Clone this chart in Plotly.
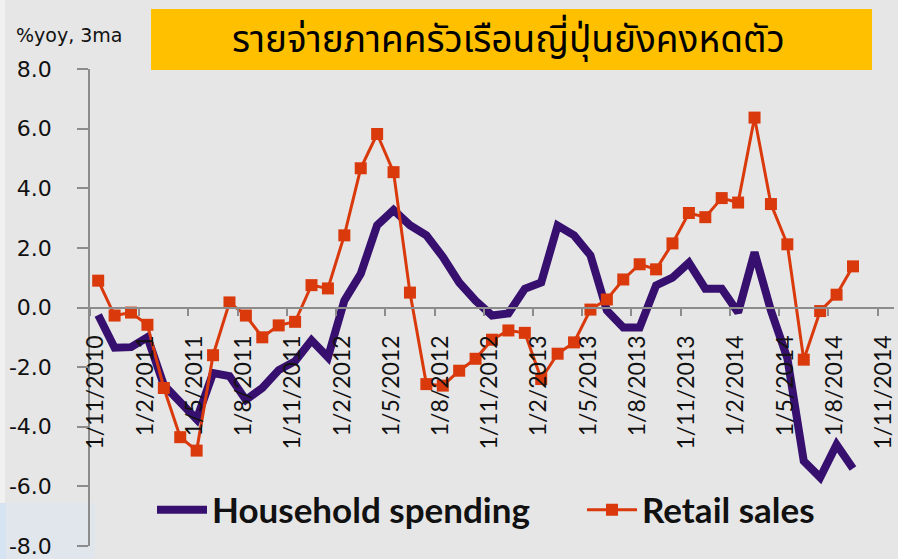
import plotly.graph_objects as go

# monthly, Nov 2010 .. Sep 2014 (%yoy, 3-month average)
months = ["11/2010", "12/2010", "1/2011", "2/2011", "3/2011", "4/2011", "5/2011", "6/2011",
          "7/2011", "8/2011", "9/2011", "10/2011", "11/2011", "12/2011", "1/2012", "2/2012",
          "3/2012", "4/2012", "5/2012", "6/2012", "7/2012", "8/2012", "9/2012", "10/2012",
          "11/2012", "12/2012", "1/2013", "2/2013", "3/2013", "4/2013", "5/2013", "6/2013",
          "7/2013", "8/2013", "9/2013", "10/2013", "11/2013", "12/2013", "1/2014", "2/2014",
          "3/2014", "4/2014", "5/2014", "6/2014", "7/2014", "8/2014", "9/2014"]

household = [-0.25, -1.35, -1.33, -1.0, -2.6, -3.2, -3.75, -2.2, -2.3, -3.1, -2.7, -2.1,
             -1.8, -1.1, -1.67, 0.23, 1.13, 2.76, 3.27, 2.76, 2.42, 1.7, 0.84, 0.23,
             -0.27, -0.2, 0.63, 0.84, 2.75, 2.42, 1.75, -0.1, -0.67, -0.67, 0.74, 1.0,
             1.5, 0.63, 0.63, -0.17, 1.85, -0.1, -1.7, -5.15, -5.7, -4.6, -5.4]

retail = [0.9, -0.27, -0.17, -0.58, -2.7, -4.35, -4.8, -1.6, 0.17, -0.27, -1.0, -0.6,
          -0.48, 0.75, 0.64, 2.42, 4.67, 5.82, 4.54, 0.5, -2.57, -2.62, -2.12, -1.72,
          -1.08, -0.77, -0.85, -2.4, -1.55, -1.17, -0.07, 0.27, 0.94, 1.45, 1.28, 2.15,
          3.17, 3.03, 3.67, 3.52, 6.37, 3.47, 2.12, -1.75, -0.12, 0.43, 1.38]

tick_labels = ["1/11/2010", "1/2/2011", "1/5/2011", "1/8/2011", "1/11/2011", "1/2/2012",
               "1/5/2012", "1/8/2012", "1/11/2012", "1/2/2013", "1/5/2013", "1/8/2013",
               "1/11/2013", "1/2/2014", "1/5/2014", "1/8/2014", "1/11/2014"]

y_ticks = [8, 6, 4, 2, 0, -2, -4, -6, -8]

title = "รายจ่ายภาคครัวเรือนญี่ปุ่นยังคงหดตัว"

# points sit in the middle of each month, ticks at month starts (every 3 months)
x = [i + 0.5 for i in range(len(months))]
tick_pos = [i * 3 for i in range(len(tick_labels))]

W, H = 898, 559
L, R, T, B = 90, 4, 69, 13


def px(xp, yp):
    # pixel -> paper coords
    return (xp - L) / (W - L - R), (H - B - yp) / (H - T - B)


fig = go.Figure()
fig.add_trace(go.Scatter(
    x=x, y=household, name="Household spending", mode="lines",
    line=dict(color="#37106F", width=8), text=months,
    legend="legend", showlegend=True,
))
fig.add_trace(go.Scatter(
    x=x, y=retail, name="Retail sales", mode="lines+markers",
    line=dict(color="#D9390B", width=3),
    marker=dict(symbol="square", size=12, color="#D9390B"), text=months,
    legend="legend2", showlegend=True,
))

legend_font = dict(family="Lato", size=35, weight="bold", color="#111111")
fig.update_layout(
    width=W, height=H, showlegend=True,
    margin=dict(l=L, r=R, t=T, b=B, autoexpand=False),
    paper_bgcolor="#E6E6E6", plot_bgcolor="#E6E6E6",
    font=dict(family="DejaVu Sans", color="#111111"),
    legend=dict(x=px(152, 0)[0], y=px(0, 510)[1], xanchor="left", yanchor="middle",
                bgcolor="rgba(0,0,0,0)", font=legend_font, itemwidth=50, visible=True),
    legend2=dict(x=px(582, 0)[0], y=px(0, 510)[1], xanchor="left", yanchor="middle",
                 bgcolor="rgba(0,0,0,0)", font=legend_font, itemwidth=50, visible=True),
)

fig.update_xaxes(
    range=[0, 49], anchor="free", position=0.5, automargin=False,
    showgrid=False, zeroline=False,
    showline=True, linecolor="#8C8C8C", linewidth=1.5,
    ticks="outside", ticklen=8, tickcolor="#8C8C8C", tickwidth=1.5,
    tickvals=tick_pos, ticktext=tick_labels, tickangle=-90,
    ticklabelshift=6, ticklabelstandoff=10, ticklabeloverflow="allow",
    tickfont=dict(family="Lato", size=23, color="#111111"),
)
fig.update_yaxes(
    range=[-8, 8], showgrid=False, zeroline=False, automargin=False,
    showline=True, linecolor="#8C8C8C", linewidth=1.5,
    ticks="outside", ticklen=11, tickcolor="#8C8C8C", tickwidth=1.5,
    tickvals=y_ticks, ticktext=["%.1f" % v for v in y_ticks],
    ticklabelstandoff=21,
    tickfont=dict(family="DejaVu Sans", size=22, color="#111111"),
)

# slide background peeking through at the left edge / bottom-left corner
sx0, _ = px(0, 0)
sx1, _ = px(5, 0)
_, sy0 = px(0, H)
_, sy1 = px(0, 0)
fig.add_shape(type="rect", xref="paper", yref="paper", x0=sx0, x1=sx1, y0=sy0, y1=sy1,
              fillcolor="#F1F1F1", line=dict(width=0), layer="below")
cx1, cy1 = px(95, 503)
fig.add_shape(type="rect", xref="paper", yref="paper", x0=sx0, x1=cx1, y0=sy0, y1=cy1,
              fillcolor="#DCE6F1", opacity=0.55, line=dict(width=0), layer="below")
cx1, _ = px(6, 0)
fig.add_shape(type="rect", xref="paper", yref="paper", x0=sx0, x1=cx1, y0=sy0, y1=cy1,
              fillcolor="#D6E3F2", line=dict(width=0), layer="below")

bx0, by0 = px(151, 70)
bx1, by1 = px(872, 9)
fig.add_shape(type="rect", xref="paper", yref="paper", x0=bx0, x1=bx1, y0=by0, y1=by1,
              fillcolor="#FFC000", line=dict(width=0), layer="below")
tx, ty = px(508, 41)
fig.add_annotation(xref="paper", yref="paper", x=tx, y=ty, text=title, showarrow=False,
                   xanchor="center", yanchor="middle",
                   font=dict(family="Tahoma, Noto Sans Thai, sans-serif", size=37, color="#000000"))
ux, uy = px(14, 35)
fig.add_annotation(xref="paper", yref="paper", x=ux, y=uy, text="%yoy, 3ma", showarrow=False,
                   xanchor="left", yanchor="middle",
                   font=dict(family="DejaVu Sans", size=19, color="#111111"))

# drop the page's default body margin so the chart sits at the window corner
fig.write_html("out.html", config={"displayModeBar": False},
               post_script="document.body.style.margin='0';")
